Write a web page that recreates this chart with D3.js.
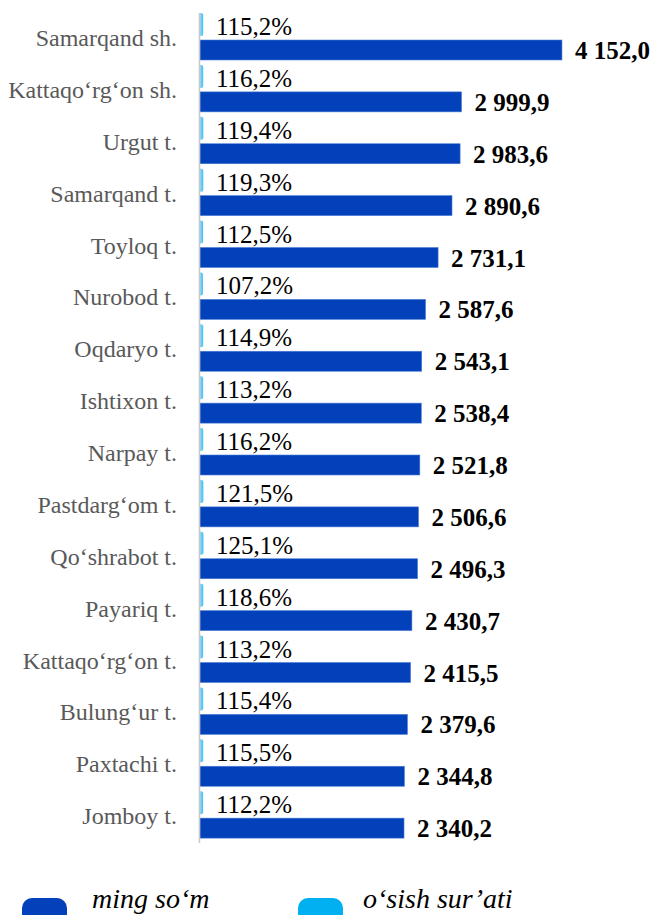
<!DOCTYPE html>
<html>
  <head>
    <meta charset="utf-8">
    <title>Samarqand viloyati</title>
    <script src="https://d3js.org/d3.v7.min.js"></script>
    <style>
      body { margin: 0; background: #fff; }
      svg { display: block; }
      text { font-family: "Liberation Serif", "Times New Roman", serif; }
      .cat { font-size: 24px; fill: #595959; }
      .pct { font-size: 25px; fill: #000; }
      .val { font-size: 25px; font-weight: bold; fill: #000; }
      .leg { font-size: 28px; font-style: italic; fill: #000; }
    </style>
  </head>
  <body>
    <svg id="chart" width="654" height="915"></svg>
    <script>
      // chart data
      var districts = ["Samarqand sh.", "Kattaqo\u2018rg\u2018on sh.", "Urgut t.", "Samarqand t.", "Toyloq t.", "Nurobod t.", "Oqdaryo t.", "Ishtixon t.", "Narpay t.", "Pastdarg\u2018om t.", "Qo\u2018shrabot t.", "Payariq t.", "Kattaqo\u2018rg\u2018on t.", "Bulung\u2018ur t.", "Paxtachi t.", "Jomboy t."];
      var income = [4152.0, 2999.9, 2983.6, 2890.6, 2731.1, 2587.6, 2543.1, 2538.4, 2521.8, 2506.6, 2496.3, 2430.7, 2415.5, 2379.6, 2344.8, 2340.2];
      var growth = [115.2, 116.2, 119.4, 119.3, 112.5, 107.2, 114.9, 113.2, 116.2, 121.5, 125.1, 118.6, 113.2, 115.4, 115.5, 112.2];
      var seriesNames = ["ming so\u2018m", "o\u2018sish sur\u2019ati"];
      var colours = ["#0341bb", "#00b0f0"];

      var fmt = function(v) {
        var s = d3.format(",.1f")(v);
        return s.replace(",", " ").replace(".", ",");
      };

      var svg = d3.select("#chart");
      var rows = districts.map(function(d, i) { return { name: d, income: income[i], growth: growth[i] }; });

      var y = d3.scaleBand()
        .domain(districts)
        .range([13, 843]);
      var x = d3.scaleLinear()
        .domain([0, 4500])
        .range([200, 592.3]);
      // growth rate drawn on its own tiny scale, as in the source
      var xg = d3.scaleLinear()
        .domain([0, 130])
        .range([0, 3.6]);

      var lightGrad = svg.append("defs").append("linearGradient")
        .attr("id", "lg").attr("x1", "0%").attr("x2", "100%");
      lightGrad.append("stop").attr("offset", "0%").attr("stop-color", "#8fd8fa");
      lightGrad.append("stop").attr("offset", "100%").attr("stop-color", "#3fbff2");

      var row = svg.selectAll(".row")
        .data(rows)
        .enter().append("g")
          .attr("class", "row")
          .attr("transform", function(d) { return "translate(0," + y(d.name) + ")"; });

      // growth bars (thin, rounded)
      row.append("path")
        .attr("fill", "url(#lg)")
        .attr("d", function(d) {
          var w = xg(d.growth), r = 2, x0 = x(0), h = 23;
          return "M" + x0 + ",0H" + (x0 + w - r) + "Q" + (x0 + w) + ",0 " + (x0 + w) + "," + r +
            "V" + (h - r) + "Q" + (x0 + w) + "," + h + " " + (x0 + w - r) + "," + h + "H" + x0 + "Z";
        });

      // income bars
      row.append("rect")
        .attr("x", x(0))
        .attr("y", 27)
        .attr("height", 20)
        .attr("width", function(d) { return x(d.income) - x(0); })
        .attr("fill", colours[0])
        .attr("stroke", "#4d7fd6")
        .attr("stroke-width", 0.6);

      row.append("text")
        .attr("class", "cat")
        .attr("x", 177)
        .attr("y", 33)
        .attr("text-anchor", "end")
        .text(function(d) { return d.name; });

      row.append("text")
        .attr("class", "pct")
        .attr("x", 216)
        .attr("y", 22)
        .text(function(d) { return d3.format(".1f")(d.growth).replace(".", ",") + "%"; });

      row.append("text")
        .attr("class", "val")
        .attr("x", function(d) { return x(d.income) + 13; })
        .attr("y", 46)
        .text(function(d) { return fmt(d.income); });

      // axis line
      svg.append("line")
        .attr("x1", x(0) - 0.5).attr("x2", x(0) - 0.5)
        .attr("y1", y.range()[0]).attr("y2", y.range()[1])
        .attr("stroke", "#c8c8c8")
        .attr("stroke-width", 1.5);

      // legend
      var legend = svg.append("g").attr("transform", "translate(0,898)");
      var legendX = [22, 298];
      seriesNames.forEach(function(name, i) {
        legend.append("rect")
          .attr("x", legendX[i]).attr("y", 0)
          .attr("width", 45).attr("height", 26)
          .attr("rx", 10)
          .attr("fill", colours[i]);
        legend.append("text")
          .attr("class", "leg")
          .attr("x", legendX[i] + (i === 0 ? 70 : 65))
          .attr("y", 10)
          .text(name);
      });
    </script>
  </body>
</html>
